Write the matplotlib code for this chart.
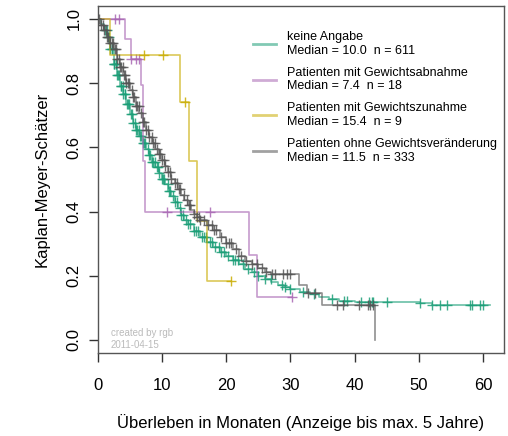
import numpy as np
import matplotlib
matplotlib.use("Agg")
import matplotlib.pyplot as plt
from matplotlib.lines import Line2D

plt.rcParams["font.family"] = ["Liberation Sans", "DejaVu Sans"]

# Kaplan-Meier step curves: time (months) where the level starts, survival level
# keine Angabe (n = 611)
green_t = [0.0, 0.5, 1.0, 1.5, 2.0, 2.5, 3.0, 3.5, 4.0, 4.5, 5.0, 5.5, 6.0, 6.5, 7.0, 7.5,
           8.0, 8.5, 9.0, 9.5, 10.0, 10.5, 11.0, 11.5, 12.0, 12.5, 13.0, 13.5, 14.0, 15.0,
           16.0, 17.0, 18.0, 19.0, 20.0, 21.0, 22.0, 23.0, 24.0, 25.0, 26.0, 27.0, 28.0,
           29.0, 30.0, 31.5, 33.0, 34.5, 36.0, 37.5, 40.0, 50.2, 52.0, 61.1]
green_s = [1.0, 0.985, 0.965, 0.945, 0.905, 0.86, 0.825, 0.79, 0.765, 0.735, 0.705, 0.675,
           0.655, 0.635, 0.615, 0.595, 0.575, 0.555, 0.54, 0.52, 0.5, 0.485, 0.465, 0.447,
           0.43, 0.41, 0.39, 0.372, 0.36, 0.34, 0.322, 0.305, 0.29, 0.275, 0.262, 0.25,
           0.235, 0.222, 0.212, 0.2, 0.19, 0.18, 0.172, 0.165, 0.157, 0.15, 0.142, 0.135,
           0.128, 0.122, 0.119, 0.114, 0.11, 0.11]
green_cens = [1.2, 1.4, 1.6, 1.8, 2.0, 2.2, 2.3, 2.5, 2.6, 2.8, 2.9, 3.1, 3.2, 3.4, 3.6, 3.7,
              3.9, 4.0, 4.2, 4.3, 4.6, 4.8, 4.9, 5.2, 5.4, 5.5, 5.8, 6.0, 6.1, 6.4, 6.6, 6.8,
              7.1, 7.3, 7.4, 7.8, 8.0, 8.1, 8.5, 8.7, 8.9, 9.2, 9.4, 9.6, 10.0, 10.2, 10.4,
              10.9, 11.1, 11.3, 11.8, 12.0, 12.3, 12.8, 13.0, 13.3, 13.8, 14.1, 14.4, 15.0,
              15.3, 15.6, 16.2, 16.5, 16.9, 17.5, 17.8, 18.2, 18.9, 19.2, 19.6, 20.3, 21.0,
              21.4, 21.8, 22.6, 23.4, 24.3, 25.0, 26.0, 26.9, 28.7, 29.2, 30.0, 32.0, 33.6,
              36.5, 38.3, 38.8, 40.9, 42.2, 42.7, 42.9, 45.0, 50.2, 52.0, 53.3, 54.3, 57.9,
              58.2, 59.5, 60.0]

# Patienten mit Gewichtsabnahme (n = 18)
purple_t = [0.0, 4.2, 5.2, 6.7, 7.0, 7.4, 23.6, 24.8, 30.2]
purple_s = [1.0, 0.9375, 0.875, 0.795, 0.557, 0.398, 0.265, 0.133, 0.133]
purple_cens = [2.75, 3.4, 5.25, 6.05, 6.45, 10.8, 17.5, 30.2]

# Patienten mit Gewichtszunahme (n = 9)
yellow_t = [0.0, 2.0, 12.75, 14.26, 15.46, 17.0, 20.8]
yellow_s = [1.0, 0.889, 0.741, 0.556, 0.37, 0.185, 0.185]
yellow_cens = [7.15, 10.2, 13.6, 20.8]

# Patienten ohne Gewichtsveraenderung (n = 333)
grey_t = [0.0, 0.5, 1.0, 1.5, 2.0, 2.5, 3.0, 3.5, 4.0, 4.5, 5.0, 5.5, 6.0, 6.5, 7.0, 7.5,
          8.0, 8.5, 9.0, 9.5, 10.0, 10.5, 11.0, 11.5, 12.0, 12.5, 13.0, 13.5, 14.0, 14.5,
          15.0, 15.5, 16.0, 17.0, 18.0, 19.0, 20.0, 21.0, 22.0, 23.0, 24.0, 25.0, 26.0,
          27.0, 31.4, 32.5, 34.9, 43.1]
grey_s = [1.0, 0.98, 0.965, 0.945, 0.925, 0.905, 0.875, 0.85, 0.825, 0.8, 0.78, 0.757, 0.73,
          0.708, 0.68, 0.655, 0.632, 0.612, 0.595, 0.578, 0.56, 0.543, 0.522, 0.5, 0.488,
          0.47, 0.452, 0.435, 0.42, 0.405, 0.393, 0.382, 0.372, 0.357, 0.343, 0.322, 0.302,
          0.283, 0.262, 0.245, 0.235, 0.225, 0.213, 0.205, 0.171, 0.146, 0.109, 0.0]
grey_cens = [0.3, 0.6, 0.8, 1.0, 1.3, 1.5, 1.7, 2.0, 2.2, 2.4, 2.7, 2.9, 3.0, 3.3, 3.5, 3.6,
             3.9, 4.1, 4.2, 4.5, 4.7, 4.9, 5.3, 5.5, 5.7, 6.0, 6.2, 6.4, 6.8, 7.0, 7.2, 7.6,
             7.8, 8.0, 8.4, 8.6, 8.9, 9.3, 9.5, 9.7, 10.1, 10.3, 10.5, 11.0, 11.2, 11.5,
             12.0, 12.4, 12.7, 12.9, 13.4, 13.9, 14.2, 14.4, 15.0, 15.5, 15.8, 16.0, 16.6,
             17.2, 17.8, 18.1, 18.5, 19.2, 20.0, 20.4, 20.8, 21.5, 22.3, 23.1, 24.0, 24.8,
             25.5, 26.2, 27.1, 27.6, 28.9, 29.5, 29.9, 32.8, 33.8, 37.2, 38.2, 40.7, 42.1,
             42.4, 42.8]

labels = ["keine Angabe\nMedian = 10.0  n = 611",
          "Patienten mit Gewichtsabnahme\nMedian = 7.4  n = 18",
          "Patienten mit Gewichtszunahme\nMedian = 15.4  n = 9",
          "Patienten ohne Gewichtsveränderung\nMedian = 11.5  n = 333"]
colors = ["#1B9E77", "#A866B3", "#C9AC00", "#555555"]

groups = [(green_t, green_s, green_cens), (purple_t, purple_s, purple_cens),
          (yellow_t, yellow_s, yellow_cens), (grey_t, grey_s, grey_cens)]

fig = plt.figure(figsize=(5.08, 4.36), dpi=100)
ax = fig.add_axes([0.192, 0.191, 0.8, 0.795])

for (t, s, cens), col in zip(groups, colors):
    t = np.asarray(t)
    s = np.asarray(s)
    ax.step(t, s, where="post", color=col, lw=1.2, alpha=0.65)
    c = np.asarray(cens)
    idx = np.searchsorted(t, c, side="right") - 1
    ax.plot(c, s[idx], ls="none", marker="+", ms=7, mew=1.0, color=col, alpha=0.85)

ax.set_xlim(0, 63.2)
ax.set_ylim(-0.04, 1.04)
ax.set_xticks(np.arange(0, 61, 10))
ax.set_yticks(np.arange(0, 1.01, 0.2))
ax.set_yticklabels([f"{v:.1f}" for v in np.arange(0, 1.01, 0.2)], rotation=90, va="center")
ax.tick_params(direction="out", length=6.5, width=1, labelsize=12, color="#333333")
ax.tick_params(axis="x", pad=12)
ax.tick_params(axis="y", pad=5)
for sp in ax.spines.values():
    sp.set_color("#555555")
    sp.set_linewidth(1)

ax.set_xlabel("Überleben in Monaten (Anzeige bis max. 5 Jahre)", fontsize=12, labelpad=15)
ax.set_ylabel("Kaplan-Meyer-Schätzer", fontsize=12, labelpad=12)

handles = [Line2D([], [], color=col, lw=2, alpha=0.55) for col in colors]
ax.legend(handles, labels, loc="upper left", bbox_to_anchor=(0.3825, 0.928), frameon=False,
          fontsize=9, handlelength=1.85, handletextpad=0.9, labelspacing=0.78,
          borderpad=0, borderaxespad=0)

ax.text(0.032, 0.04, "created by rgb\n2011-04-15", transform=ax.transAxes, fontsize=7,
        color="#BBBBBB", va="center", ha="left", linespacing=1.3)

fig.savefig("out.png", dpi=100)
